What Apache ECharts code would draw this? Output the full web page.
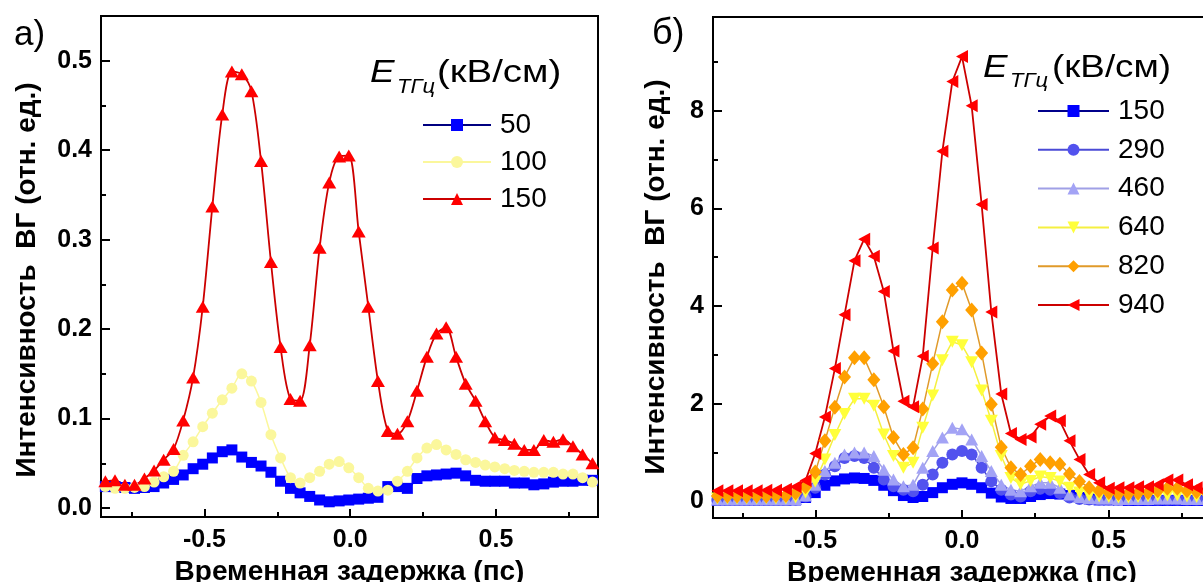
<!DOCTYPE html>
<html><head><meta charset="utf-8">
<script src="https://cdn.jsdelivr.net/npm/echarts@6/dist/echarts.min.js"></script>
<style>html,body{margin:0;padding:0;background:#fff;overflow:hidden;width:1203px;height:582px}#c{width:1220px;height:582px}</style>
</head><body><div id="c"></div><script>
// ---- Panel a) data ----
const timesA = [-0.840,-0.807,-0.773,-0.740,-0.706,-0.673,-0.640,-0.606,-0.573,-0.539,
  -0.506,-0.473,-0.439,-0.406,-0.372,-0.339,-0.306,-0.272,-0.239,-0.205,
  -0.172,-0.139,-0.105,-0.072,-0.038,-0.005,0.029,0.062,0.095,0.129,
  0.162,0.196,0.229,0.263,0.296,0.329,0.363,0.396,0.430,0.463,
  0.496,0.530,0.563,0.597,0.630,0.664,0.697,0.730,0.764,0.797,0.831];
const a50 = [0.024,0.024,0.023,0.022,0.023,0.024,0.028,0.032,0.037,0.044,
  0.049,0.056,0.063,0.065,0.057,0.051,0.047,0.040,0.030,0.022,
  0.017,0.013,0.009,0.007,0.008,0.009,0.010,0.011,0.012,0.024,
  0.024,0.022,0.033,0.036,0.037,0.038,0.039,0.036,0.031,0.030,
  0.030,0.030,0.028,0.028,0.026,0.027,0.029,0.030,0.030,0.031,0.031];
const a100 = [0.024,0.022,0.022,0.023,0.024,0.029,0.035,0.041,0.059,0.074,
  0.091,0.106,0.121,0.134,0.150,0.142,0.118,0.082,0.056,0.034,
  0.028,0.034,0.041,0.049,0.052,0.045,0.034,0.022,0.019,0.020,
  0.030,0.041,0.056,0.067,0.071,0.065,0.060,0.054,0.051,0.048,
  0.046,0.044,0.042,0.041,0.040,0.040,0.040,0.038,0.038,0.034,0.029];
const a150 = [0.030,0.031,0.026,0.026,0.033,0.042,0.054,0.066,0.098,0.146,
  0.225,0.337,0.440,0.488,0.485,0.466,0.388,0.275,0.180,0.122,
  0.120,0.182,0.291,0.364,0.393,0.394,0.309,0.225,0.142,0.086,
  0.083,0.097,0.131,0.169,0.195,0.202,0.169,0.139,0.120,0.097,
  0.079,0.076,0.072,0.065,0.065,0.076,0.074,0.077,0.069,0.060,0.050];
const namesA = ['50','100','150'];

// ---- Panel б) data ----
const timesB = [-0.835,-0.801,-0.768,-0.735,-0.701,-0.668,-0.635,-0.601,-0.568,-0.534,
  -0.501,-0.468,-0.434,-0.401,-0.367,-0.334,-0.301,-0.267,-0.234,-0.200,
  -0.167,-0.134,-0.100,-0.067,-0.033,0.000,0.033,0.067,0.100,0.134,
  0.167,0.200,0.234,0.267,0.301,0.334,0.367,0.401,0.434,0.468,
  0.501,0.534,0.568,0.601,0.635,0.668,0.701,0.735,0.768,0.801,0.835];
const b150 = [0.02,0.02,0.02,0.02,0.02,0.02,0.02,0.02,0.03,0.08,
  0.18,0.33,0.42,0.46,0.48,0.47,0.43,0.33,0.22,0.12,
  0.08,0.10,0.18,0.28,0.35,0.38,0.35,0.28,0.17,0.09,
  0.06,0.06,0.10,0.14,0.16,0.15,0.12,0.08,0.05,0.03,
  0.03,0.03,0.02,0.02,0.02,0.02,0.02,0.02,0.02,0.02,0.02];
const b290 = [0.03,0.03,0.03,0.03,0.03,0.03,0.03,0.03,0.04,0.10,
  0.28,0.55,0.72,0.89,0.93,0.89,0.69,0.45,0.31,0.24,
  0.21,0.34,0.55,0.79,0.96,1.03,0.96,0.69,0.41,0.24,
  0.14,0.10,0.21,0.26,0.24,0.17,0.08,0.05,0.04,0.04,
  0.04,0.04,0.04,0.04,0.04,0.04,0.04,0.04,0.04,0.04,0.04];
const b460 = [0.04,0.04,0.04,0.04,0.04,0.04,0.04,0.04,0.05,0.12,
  0.34,0.62,0.79,0.96,1.00,1.00,0.93,0.65,0.45,0.31,
  0.34,0.69,1.03,1.31,1.51,1.48,1.27,0.93,0.62,0.34,
  0.24,0.21,0.31,0.38,0.38,0.28,0.14,0.09,0.07,0.06,
  0.06,0.05,0.05,0.05,0.05,0.06,0.06,0.06,0.05,0.05,0.05];
const b640 = [0.06,0.06,0.06,0.06,0.06,0.06,0.06,0.06,0.08,0.18,
  0.41,0.86,1.36,1.79,2.10,2.10,1.96,1.37,0.93,0.69,
  0.79,1.51,2.17,2.89,3.27,3.20,2.85,2.27,1.65,0.93,
  0.48,0.35,0.42,0.51,0.48,0.41,0.28,0.18,0.12,0.10,
  0.09,0.08,0.08,0.09,0.10,0.11,0.12,0.12,0.10,0.09,0.09];
const b820 = [0.11,0.11,0.11,0.11,0.11,0.11,0.12,0.12,0.17,0.30,
  0.60,1.24,1.93,2.55,2.94,2.94,2.49,1.94,1.31,0.96,
  1.10,1.89,2.82,3.68,4.33,4.47,3.92,3.04,1.99,1.11,
  0.69,0.55,0.72,0.86,0.79,0.76,0.56,0.41,0.28,0.22,
  0.18,0.16,0.16,0.17,0.18,0.22,0.27,0.27,0.22,0.20,0.18];
const b940 = [0.22,0.22,0.22,0.22,0.22,0.23,0.23,0.25,0.30,0.43,
  0.98,1.73,2.72,3.82,4.93,5.37,5.02,4.30,3.08,2.05,
  1.94,2.97,5.19,7.17,8.60,9.11,8.10,6.08,3.88,2.20,
  1.39,1.27,1.32,1.58,1.75,1.65,1.24,0.86,0.55,0.38,
  0.27,0.28,0.28,0.30,0.30,0.34,0.44,0.44,0.34,0.28,0.25];
const namesB = ['150','290','460','640','820','940'];

// ---- ticks / labels ----
const xMajor = [-0.5, 0, 0.5];
const xMinor = [-0.75, -0.25, 0.25, 0.75];
const yMajorA = [0, 0.1, 0.2, 0.3, 0.4, 0.5];
const yMinorA = [0.05, 0.15, 0.25, 0.35, 0.45];
const yMajorB = [0, 2, 4, 6, 8];
const yMinorB = [1, 3, 5, 7, 9];
const xTitle = 'Временная задержка (пс)';
const yTitle = 'Интенсивность  ВГ (отн. ед.)';

const FF = '"Liberation Sans", Arial, sans-serif';
const SYM_TD = 'path://M0,0L10,0L5,10Z';
const SYM_TL = 'path://M0,5L10,0L10,10Z';

function zip(t, v) { return t.map((x, i) => [x, v[i]]); }

function ser(name, ax, t, v, symbol, size, fill, line, smooth, lw) {
  return {
    type: 'line', name: name, xAxisIndex: ax, yAxisIndex: ax,
    data: zip(t, v), symbol: symbol, symbolSize: size, smooth: smooth,
    showAllSymbol: true, animation: false,
    itemStyle: { color: fill, borderWidth: 0 },
    lineStyle: { color: line, width: lw },
    emphasis: { disabled: true }
  };
}

const tickStyle = { color: '#000', width: 2 };
function mainX(g, min, max) {
  return {
    type: 'value', gridIndex: g, min: min, max: max, position: 'bottom',
    axisLine: { show: true, onZero: false, lineStyle: { color: '#000', width: 2 } },
    axisTick: { show: true, inside: true, length: 8, customValues: xMajor, lineStyle: tickStyle },
    axisLabel: { customValues: xMajor, formatter: v => v.toFixed(1), color: '#000',
      fontFamily: FF, fontWeight: 'bold', fontSize: 25, margin: 11 },
    splitLine: { show: false },
    name: xTitle, nameLocation: 'middle', nameGap: 38,
    nameTextStyle: { fontFamily: FF, fontWeight: 'bold', fontSize: 28, color: '#000' }
  };
}
function minorX(g, min, max) {
  return {
    type: 'value', gridIndex: g, min: min, max: max, position: 'bottom',
    axisLine: { show: false, onZero: false },
    axisTick: { show: true, inside: true, length: 5, customValues: xMinor, lineStyle: tickStyle },
    axisLabel: { show: false }, splitLine: { show: false }
  };
}
function mainY(g, min, max, major, fmt, gap, pad) {
  return {
    type: 'value', gridIndex: g, min: min, max: max, position: 'left',
    axisLine: { show: true, onZero: false, lineStyle: { color: '#000', width: 2 } },
    axisTick: { show: true, inside: true, length: 9, customValues: major, lineStyle: tickStyle },
    axisLabel: { customValues: major, formatter: fmt, color: '#000',
      fontFamily: FF, fontWeight: 'bold', fontSize: 25, margin: 9 },
    splitLine: { show: false },
    name: yTitle, nameLocation: 'middle', nameGap: gap, nameRotate: 90,
    nameTextStyle: { fontFamily: FF, fontWeight: 'bold', fontSize: 28, color: '#000', padding: [0, pad, 0, 0] }
  };
}
function minorY(g, min, max, minor) {
  return {
    type: 'value', gridIndex: g, min: min, max: max, position: 'left',
    axisLine: { show: false, onZero: false },
    axisTick: { show: true, inside: true, length: 5, customValues: minor, lineStyle: tickStyle },
    axisLabel: { show: false }, splitLine: { show: false }
  };
}

const legendText = { fontFamily: FF, fontSize: 28, color: '#000', lineHeight: 26, padding: [0, 0, 0, 4] };

function ttl(x, y, text, size, italic, sx) {
  return { type: 'text', x: x, y: y, scaleX: sx, scaleY: 1,
    style: { text: text, font: (italic ? 'italic ' : '') + size + 'px ' + FF, fill: '#000', verticalAlign: 'middle' } };
}

const gridBase = { show: true, borderColor: '#000', borderWidth: 2, backgroundColor: 'transparent',
  containLabel: false, outerBoundsMode: 'none' };

const option = {
  animation: false,
  backgroundColor: '#fff',
  grid: [
    Object.assign({ left: 101, top: 16, width: 497, height: 501 }, gridBase),
    Object.assign({ left: 713, top: 17, width: 498, height: 501 }, gridBase)
  ],
  xAxis: [ mainX(0, -0.855, 0.85), mainX(1, -0.85, 0.85), minorX(0, -0.855, 0.85), minorX(1, -0.85, 0.85) ],
  yAxis: [
    mainY(0, -0.01, 0.55, yMajorA, v => v.toFixed(1), 60, 27),
    mainY(1, -0.34, 9.92, yMajorB, v => String(v), 43, 19),
    minorY(0, -0.01, 0.55, yMinorA),
    minorY(1, -0.34, 9.92, yMinorB)
  ],
  legend: [
    { data: namesA.map(n => 'a' + n), orient: 'vertical', left: 422, top: 111, padding: 0,
      itemWidth: 68, itemHeight: 15, itemGap: 9, selectedMode: false,
      formatter: n => n.slice(1), textStyle: legendText },
    { data: namesB.map(n => 'b' + n), orient: 'vertical', left: 1037, top: 97, padding: 0,
      itemWidth: 71, itemHeight: 15, itemGap: 10.8, selectedMode: false,
      formatter: n => n.slice(1), textStyle: legendText }
  ],
  graphic: [
    { type: 'text', left: 14, top: 18, style: { text: 'а)', font: '35px ' + FF, fill: '#000' } },
    { type: 'text', left: 652, top: 16, style: { text: 'б)', font: '36px ' + FF, fill: '#000' } },
    ttl(370, 73, 'E', 32, true, 1.15),
    ttl(397, 87, 'ТГц', 20, true, 1.1),
    ttl(437, 73, '(кВ/см)', 32, false, 1.2),
    ttl(983, 68, 'E', 32, true, 1.15),
    ttl(1010, 81, 'ТГц', 20, true, 1.1),
    ttl(1052, 68, '(кВ/см)', 32, false, 1.15)
  ],
  series: [
    ser('a50', 0, timesA, a50, 'rect', 11, '#0000ff', '#000080', 0.3, 1.5),
    ser('a100', 0, timesA, a100, 'circle', 11, '#fbf79c', '#fbf79c', 0.3, 1.5),
    ser('a150', 0, timesA, a150, 'triangle', [14, 12], '#ff0000', '#cc0000', 0.3, 1.8),
    ser('b150', 1, timesB, b150, 'rect', 11, '#0000ff', '#00008b', false, 1.5),
    ser('b290', 1, timesB, b290, 'circle', 12, '#5252ee', '#4a4ad6', false, 1.5),
    ser('b460', 1, timesB, b460, 'triangle', [13, 12], '#a3a3f5', '#a0a0e6', false, 1.5),
    ser('b640', 1, timesB, b640, SYM_TD, [13, 12], '#ffff3a', '#f5f040', false, 1.5),
    ser('b820', 1, timesB, b820, 'diamond', [13, 15], '#ffa000', '#e09a2a', false, 1.5),
    ser('b940', 1, timesB, b940, SYM_TL, [12, 13], '#ff0000', '#cc0000', false, 1.8)
  ]
};
const chart = echarts.init(document.getElementById('c'), null, { renderer: 'canvas' });
chart.setOption(option);
</script></body></html>
